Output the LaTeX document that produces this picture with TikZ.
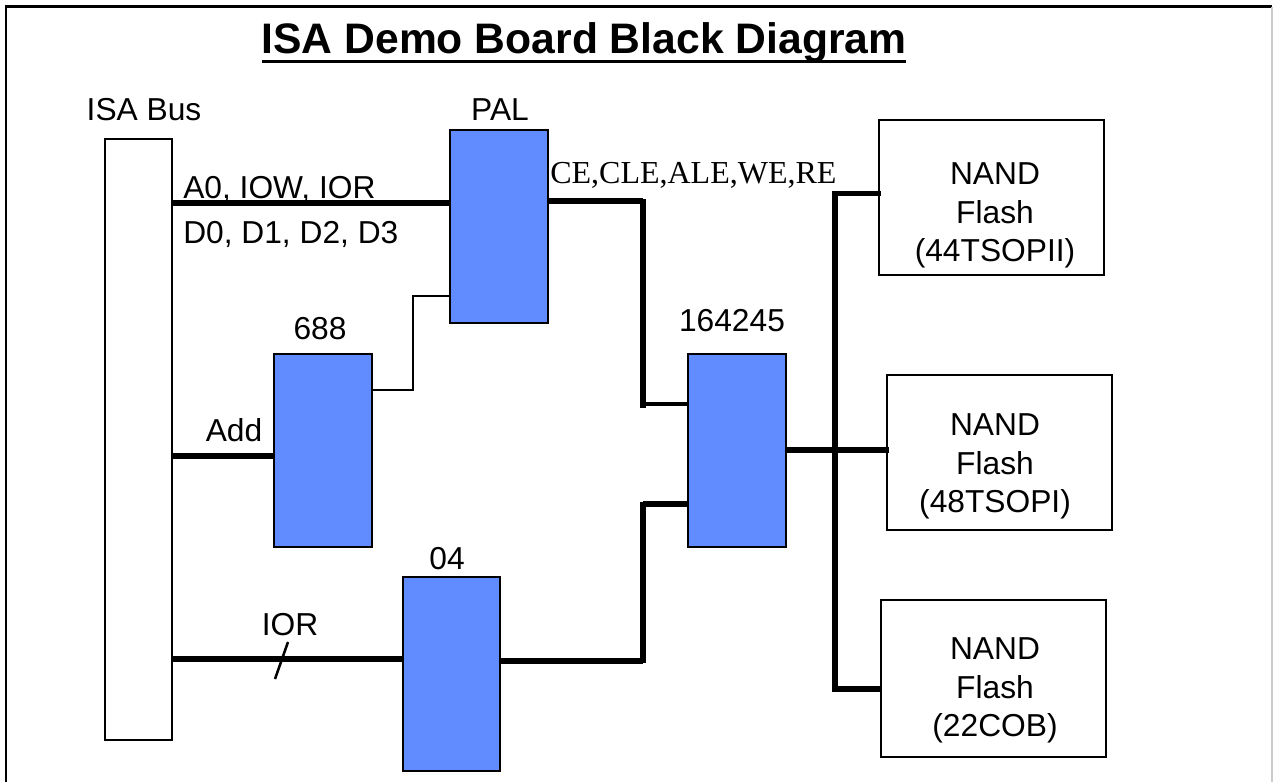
\documentclass[tikz,border=0pt]{standalone}
\usepackage{fontspec}
\setmainfont{Liberation Sans}
\newfontfamily\timesf{Liberation Serif}
\definecolor{chip}{RGB}{96,140,255}
\tikzset{
  x=0.75pt, y=-0.75pt,
  box/.style={draw=black, line width=2.05pt, outer sep=0pt, inner sep=0pt, anchor=north west},
  chipbox/.style={box, fill=chip},
  flash/.style={box, fill=white},
  lab/.style={font=\fontsize{23.8pt}{29pt}\selectfont, inner sep=0pt, anchor=base},
  labl/.style={lab, anchor=base west},
  sigtimes/.style={font=\fontsize{24pt}{29pt}\selectfont\timesf, inner sep=0pt, anchor=base west},
  ttl/.style={font=\fontsize{32pt}{36pt}\selectfont\bfseries, inner sep=0pt, anchor=base},
  bus/.style={line width=4.1pt},
  midwire/.style={line width=3pt},
  thinwire/.style={line width=2.1pt},
  rectbox/.style n args={2}{minimum width=#1*0.75pt, minimum height=#2*0.75pt}
}
\begin{document}
\begin{tikzpicture}
\useasboundingbox (0,0) rectangle (1273,782);
\fill[white] (0,0) rectangle (1273,782);
% page frame
\draw[black, line width=2.05pt] (6,782) -- (6,6.5) -- (1272,6.5);
\draw[black!20, line width=1pt] (1272,6.5) -- (1272,782);
% title
\node[ttl] (title) at (584,53) {ISA Demo Board Black Diagram};
\coordinate (ulL) at (262,61.7);
\coordinate (ulR) at (906,61.7);
\draw[line width=2.2pt] (ulL) -- (ulR);
% boxes
\node[flash, rectbox={67}{601}] (isa) at (105,139) {};
\node[chipbox, rectbox={98}{193}] (pal) at (450,130) {};
\node[chipbox, rectbox={98}{193}] (u688) at (274,354) {};
\node[chipbox, rectbox={97}{194}] (u04) at (403,577) {};
\node[chipbox, rectbox={98}{193}] (u164) at (688,354) {};
\node[flash, rectbox={225}{155}] (nf1) at (879,120) {};
\node[flash, rectbox={225}{155}] (nf2) at (887,375) {};
\node[flash, rectbox={225}{157}] (nf3) at (881,600) {};
% junction points
\coordinate (jA) at (643,201);
\coordinate (jB) at (643,408);
\coordinate (jC) at (643,661);
\coordinate (jD) at (643,502);
\coordinate (jT) at (835,191);
\coordinate (jE) at (835,692);
\coordinate (j1) at (413,390);
\coordinate (j2) at (413,296);
\coordinate (tickA) at (288,642);
\coordinate (tickB) at (275,679);
% wires
\draw[bus] (isa.east |- 0,203) -- (pal.west |- 0,203);
\draw[bus] (isa.east |- 0,456) -- (u688.west |- 0,456);
\draw[bus] (isa.east |- 0,659) -- (u04.west |- 0,659);
\draw[bus] (pal.east |- jA) -- (jA);
\draw[bus] (jA |- 0,199) -- (jB);
\draw[midwire] (jB |- 0,404) -- (u164.west |- 0,404);
\draw[bus] (u04.east |- jC) -- (jC);
\draw[bus] (jC |- 0,663) -- (jD);
\draw[bus] (jD |- 0,504) -- (u164.west |- 0,504);
\draw[thinwire, line join=miter] (u688.east |- j1) -- (j1) -- (j2) -- (pal.west |- j2);
\draw[bus] (u164.east |- 0,450) -- ([xshift=1.5pt]nf2.west |- 0,450);
\draw[bus] (jT) -- (jE);
\draw[bus] (jT |- 0,193.5) -- ([xshift=1.5pt]nf1.west |- 0,193.5);
\draw[bus] (jE |- 0,689) -- (nf3.west |- 0,689);
\draw[line width=1.9pt] (tickA) -- (tickB);
% labels
\node[lab] (lisa) at (144,120) {ISA Bus};
\node[lab] (lpal) at (500,120) {PAL};
\node[lab] (l688) at (320,339) {688};
\node[lab] (l164) at (732,331) {164245};
\node[lab] (l04) at (447,569) {04};
\node[lab] (ladd) at (234,441) {Add};
\node[lab] (lior) at (290,635) {IOR};
\node[labl] (la0) at (183,198) {A0, IOW, IOR};
\node[labl] (ld0) at (183,243) {D0, D1, D2, D3};
\node[sigtimes] (lce) at (550,183) {CE,CLE,ALE,WE,RE};
\node[lab] (n1a) at (995,184) {NAND};
\node[lab] (n1b) at (995,223) {Flash};
\node[lab] (n1c) at (995,261) {(44TSOPII)};
\node[lab] (n2a) at (995,435) {NAND};
\node[lab] (n2b) at (995,474.5) {Flash};
\node[lab] (n2c) at (995,512.5) {(48TSOPI)};
\node[lab] (n3a) at (995,659) {NAND};
\node[lab] (n3b) at (995,698.5) {Flash};
\node[lab] (n3c) at (995,736.5) {(22COB)};
\end{tikzpicture}
\end{document}
